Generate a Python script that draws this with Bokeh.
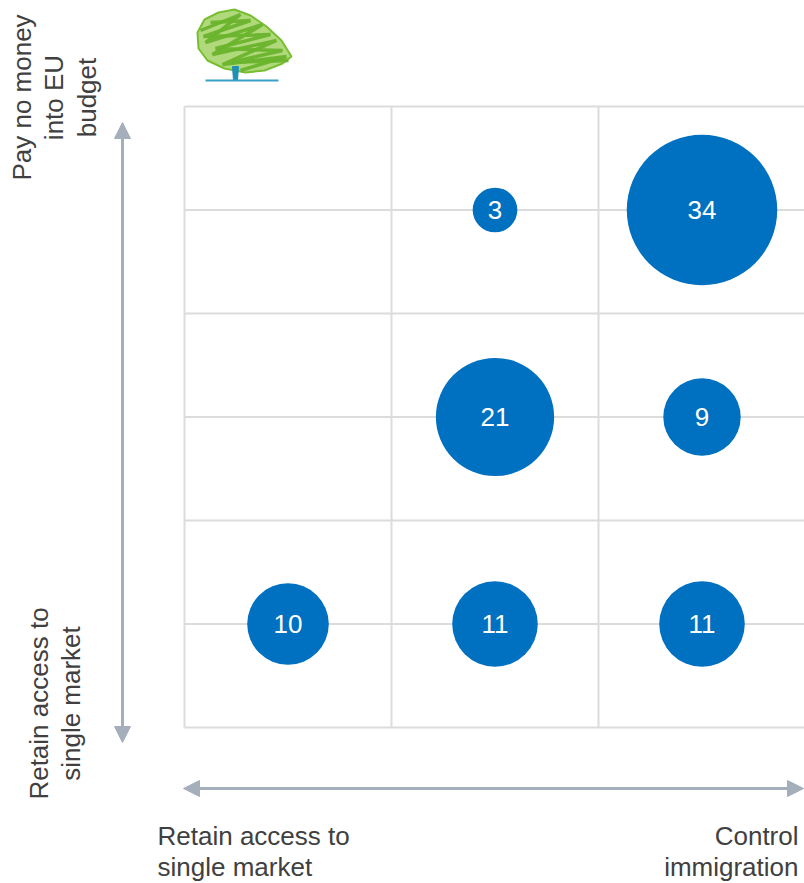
import math
from bokeh.plotting import figure
from bokeh.models import Range1d, ColumnDataSource, Arrow, NormalHead
from bokeh.core.properties import value
from bokeh.embed import file_html
from bokeh.resources import INLINE

# ---------------- data ----------------
x_categories = ["Retain access to single market", "Middle", "Control immigration"]
y_categories = ["Retain access to single market", "Middle", "Pay no money into EU budget"]
bubble_col = [1, 2, 1, 2, 0, 1, 2]
bubble_row = [2, 2, 1, 1, 0, 0, 0]
bubble_counts = [3, 34, 21, 9, 10, 11, 11]

x_left_label = ["Retain access to", "single market"]
x_right_label = ["Control", "immigration"]
y_top_label = ["Pay no money", "into EU", "budget"]
y_bottom_label = ["Retain access to", "single market"]

# ---------------- layout helpers ----------------
W, H = 804, 883
CELL = 207.0
GRID_LEFT_PX = 184
GRID_BOTTOM_PX = 727


def dx(xp):
    return (xp - GRID_LEFT_PX) / CELL


def dy(yp):
    return (GRID_BOTTOM_PX - yp) / CELL


FONT = "Liberation Sans"
TEXT_COLOR = "#404040"
GRID_COLOR = "#DCDCDC"
ARROW_COLOR = "#A5AFBC"
BUBBLE_COLOR = "#0070C0"

p = figure(
    width=W, height=H,
    x_range=Range1d(dx(0), dx(W)),
    y_range=Range1d(dy(H), dy(0)),
    output_backend="svg", toolbar_location=None,
    min_border=0, min_border_left=0, min_border_right=0,
    min_border_top=0, min_border_bottom=0,
)
p.xaxis.visible = False
p.yaxis.visible = False
p.xgrid.visible = False
p.ygrid.visible = False
p.outline_line_color = None
p.background_fill_color = "white"
p.border_fill_color = "white"

n_cols = len(x_categories)
n_rows = len(y_categories)

# grid: column boundaries
vx = list(range(n_cols + 1))
p.segment(x0=vx, y0=[0] * len(vx), x1=vx, y1=[n_rows] * len(vx),
          line_color=GRID_COLOR, line_width=2)
# grid: row boundaries and row centres
hy = [i * 0.5 for i in range(2 * n_rows + 1)]
p.segment(x0=[0] * len(hy), y0=hy, x1=[n_cols] * len(hy), y1=hy,
          line_color=GRID_COLOR, line_width=2)

# bubbles
src = ColumnDataSource(dict(
    x=[c + 0.5 for c in bubble_col],
    y=[r + 0.5 for r in bubble_row],
    size=[25.8 * math.sqrt(v) for v in bubble_counts],
    label=[str(v) for v in bubble_counts],
))
p.scatter("x", "y", size="size", source=src, fill_color=BUBBLE_COLOR,
          line_color=None)
p.text("x", "y", text="label", source=src, text_color="white",
       text_font=value(FONT), text_font_size="26px",
       text_align="center", text_baseline="middle")

# arrows
for xs, ys, xe, ye in [(122, 742, 122, 122), (183, 788, 803, 788)]:
    p.add_layout(Arrow(
        x_start=dx(xs), y_start=dy(ys), x_end=dx(xe), y_end=dy(ye),
        line_color=ARROW_COLOR, line_width=3,
        start=NormalHead(size=16, fill_color=ARROW_COLOR, line_color=ARROW_COLOR),
        end=NormalHead(size=16, fill_color=ARROW_COLOR, line_color=ARROW_COLOR)))

# axis end labels (bottom)
line_gap = 31
p.text(x=[dx(157)] * 2, y=[dy(835 + i * line_gap) for i in range(2)],
       text=x_left_label, text_color=TEXT_COLOR, text_font=value(FONT),
       text_font_size="26px", text_align="left", text_baseline="alphabetic")
p.text(x=[dx(798)] * 2, y=[dy(835 + i * line_gap) for i in range(2)],
       text=x_right_label, text_color=TEXT_COLOR, text_font=value(FONT),
       text_font_size="26px", text_align="right", text_baseline="alphabetic")

# axis end labels (left, rotated)
p.text(x=[dx(21 + i * 32.5) for i in range(3)], y=[dy(97)] * 3,
       text=y_top_label, angle=math.pi / 2, text_color=TEXT_COLOR,
       text_font=value(FONT), text_font_size="26px",
       text_align="center", text_baseline="alphabetic")
p.text(x=[dx(38.5 + i * 32) for i in range(2)], y=[dy(703)] * 2,
       text=y_bottom_label, angle=math.pi / 2, text_color=TEXT_COLOR,
       text_font=value(FONT), text_font_size="26px",
       text_align="center", text_baseline="alphabetic")

# decorative tree logo (approximation)
canopy_px = [(197, 32), (204, 19), (218, 12), (234, 9), (250, 15), (266, 26),
             (281, 40), (291, 56), (282, 63), (264, 70), (245, 72), (224, 68),
             (207, 60), (198, 48)]
p.patch([dx(a) for a, b in canopy_px], [dy(b) for a, b in canopy_px],
        fill_color="#9CCF5A", fill_alpha=0.8, line_color="#78BE32", line_width=2)
scribbles_px = [
    [(200, 30), (240, 14), (205, 42), (262, 24), (212, 54), (276, 40), (222, 64), (286, 56), (240, 70)],
    [(210, 22), (250, 20), (203, 36), (270, 34), (215, 48), (282, 50), (230, 62), (288, 60)],
]
p.multi_line([[dx(a) for a, b in s] for s in scribbles_px],
             [[dy(b) for a, b in s] for s in scribbles_px],
             line_color="#6AB42D", line_width=3.5, line_alpha=0.95)
p.patch([dx(a) for a in (232, 238, 237, 233)], [dy(b) for b in (66, 66, 80, 80)],
        fill_color="#1F8FB5", line_color="#1F8FB5")
p.segment(x0=[dx(205)], y0=[dy(80)], x1=[dx(278)], y1=[dy(80)],
          line_color="#3AA0C8", line_width=2)

open("out.html", "w").write(file_html(p, INLINE))
